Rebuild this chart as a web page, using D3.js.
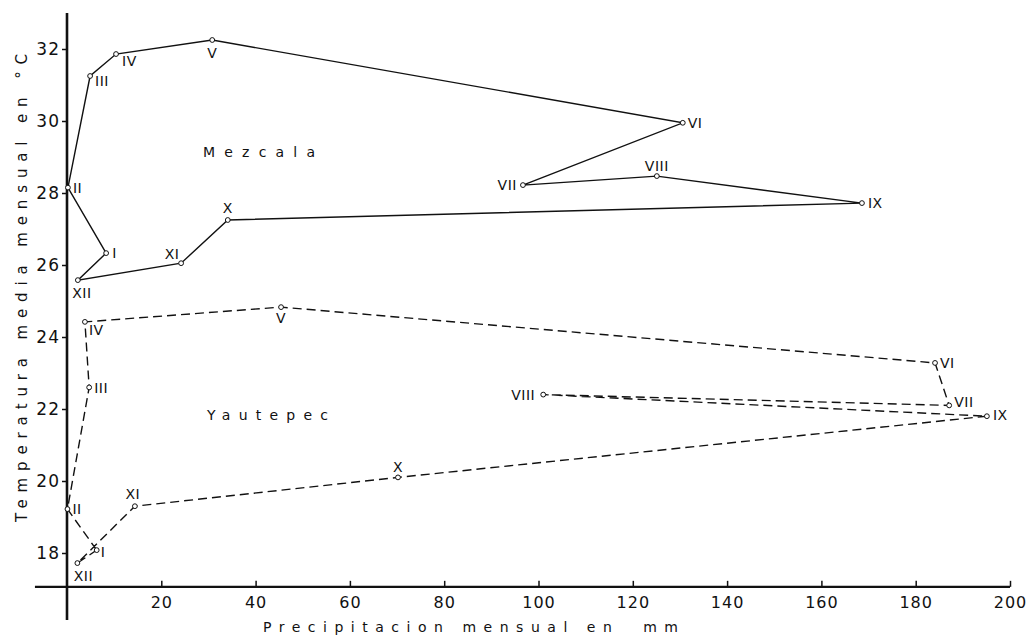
<!DOCTYPE html>
<html>
<head>
<meta charset="utf-8">
<script src="https://cdn.jsdelivr.net/npm/d3@7"></script>
<style>
  html, body { margin: 0; padding: 0; background: #fff; }
  svg { display: block; font-family: "DejaVu Sans", "Liberation Sans", Arial, sans-serif; }
</style>
</head>
<body>
<svg id="chart" width="1027" height="639"></svg>
<script>
// ---------- data ----------
const months = ["I","II","III","IV","V","VI","VII","VIII","IX","X","XI","XII"];
const mezcalaPrecip = [8.3, 0.2, 4.9, 10.4, 30.8, 130.6, 96.7, 125.1, 168.6, 34.1, 24.2, 2.3];
const mezcalaTemp   = [26.33, 28.15, 31.25, 31.86, 32.25, 29.95, 28.22, 28.47, 27.72, 27.25, 26.05, 25.58];
const yautepecPrecip = [6.3, 0.1, 4.7, 3.8, 45.4, 184.1, 187.1, 101.0, 195.1, 70.2, 14.4, 2.2];
const yautepecTemp   = [18.08, 19.22, 22.6, 24.42, 24.83, 23.28, 22.1, 22.4, 21.8, 20.1, 19.3, 17.72];
const xTickValues = [20, 40, 60, 80, 100, 120, 140, 160, 180, 200];
const yTickValues = [18, 20, 22, 24, 26, 28, 30, 32];
const seriesNames = ["Mezcala", "Yautepec"];

// label placement (style only): [dx, dy, anchor]
const mezcalaLabelPos = [[6,0,"start"],[5,0,"start"],[5,5,"start"],[6,7,"start"],[0,13,"middle"],[5,0,"start"],
                         [-6,0,"end"],[0,-10,"middle"],[6,0,"start"],[0,-12,"middle"],[-9,-9,"middle"],[4,13,"middle"]];
const yautepecLabelPos = [[4,2,"start"],[5,0,"start"],[5,1,"start"],[4,8,"start"],[0,11,"middle"],[5,0,"start"],
                          [5,-3,"start"],[-8,0,"end"],[6,-1,"start"],[0,-10,"middle"],[-2,-12,"middle"],[6,13,"middle"]];

// ---------- scales ----------
const svg = d3.select("#chart");
const x = d3.scaleLinear().domain([0, 200]).range([67, 1010]);
const y = d3.scaleLinear().domain([18, 32]).range([553, 49]);
const ink = "#111";

// ---------- axes ----------
svg.append("line").attr("x1", x(-6.8)).attr("x2", x(200))
  .attr("y1", y(17.06)).attr("y2", y(17.06))
  .attr("stroke", ink).attr("stroke-width", 2.2);
svg.append("line").attr("x1", x(0)).attr("x2", x(0))
  .attr("y1", y(33)).attr("y2", y(16.14))
  .attr("stroke", ink).attr("stroke-width", 2.6);

const xAxis = d3.axisBottom(x).tickValues(xTickValues).tickSize(-6).tickPadding(10).tickFormat(d3.format("d"));
const gx = svg.append("g").attr("transform", `translate(0,${y(17.06)})`).call(xAxis);
gx.select(".domain").remove();
gx.selectAll(".tick line").attr("stroke", ink).attr("stroke-width", 1.5);
gx.selectAll(".tick text").attr("fill", ink).attr("font-size", 16)
  .attr("font-family", "DejaVu Sans, sans-serif").style("letter-spacing", "1px");

const yAxis = d3.axisLeft(y).tickValues(yTickValues).tickSize(5).tickPadding(2).tickFormat(d3.format("d"));
const gy = svg.append("g").attr("transform", `translate(${x(0)},0)`).call(yAxis);
gy.select(".domain").remove();
gy.selectAll(".tick line").attr("stroke", ink).attr("stroke-width", 1.5);
gy.selectAll(".tick text").attr("fill", ink).attr("font-size", 17)
  .attr("font-family", "DejaVu Sans, sans-serif").style("letter-spacing", "1px");

// axis titles
svg.append("text")
  .attr("x", 263).attr("y", 632)
  .attr("textLength", 415).attr("lengthAdjust", "spacing")
  .attr("font-size", 14).attr("fill", ink)
  .style("white-space", "pre")
  .text("Precipitacion mensual en  mm");

svg.append("text")
  .attr("transform", "translate(27,522) rotate(-90)")
  .attr("textLength", 468).attr("lengthAdjust", "spacing")
  .attr("font-size", 15).attr("fill", ink)
  .text("Temperatura media mensual en °C");

// ---------- series ----------
const line = d3.line().x(d => x(d.p)).y(d => y(d.t)).curve(d3.curveLinearClosed);

function drawSeries(precip, temp, labelPos, dash) {
  const pts = months.map((m, i) => ({ m, p: precip[i], t: temp[i], pos: labelPos[i] }));
  svg.append("path").datum(pts)
    .attr("d", line)
    .attr("fill", "none").attr("stroke", ink).attr("stroke-width", 1.4)
    .attr("stroke-dasharray", dash);
  svg.append("g").selectAll("circle").data(pts).join("circle")
    .attr("cx", d => x(d.p)).attr("cy", d => y(d.t)).attr("r", 2.4)
    .attr("fill", "#fff").attr("stroke", ink).attr("stroke-width", 1);
  svg.append("g").selectAll("text").data(pts).join("text")
    .attr("x", d => x(d.p) + d.pos[0]).attr("y", d => y(d.t) + d.pos[1])
    .attr("text-anchor", d => d.pos[2])
    .attr("dominant-baseline", "central")
    .attr("font-size", 14).attr("fill", ink)
    .style("letter-spacing", "0.5px")
    .text(d => d.m);
}

drawSeries(mezcalaPrecip, mezcalaTemp, mezcalaLabelPos, null);
drawSeries(yautepecPrecip, yautepecTemp, yautepecLabelPos, "9,5");

// series names
svg.append("text").attr("x", 203).attr("y", 157)
  .attr("textLength", 112).attr("lengthAdjust", "spacing")
  .attr("font-size", 14).attr("fill", ink).text(seriesNames[0]);
svg.append("text").attr("x", 207).attr("y", 420)
  .attr("textLength", 121).attr("lengthAdjust", "spacing")
  .attr("font-size", 14).attr("fill", ink).text(seriesNames[1]);
</script>
</body>
</html>
